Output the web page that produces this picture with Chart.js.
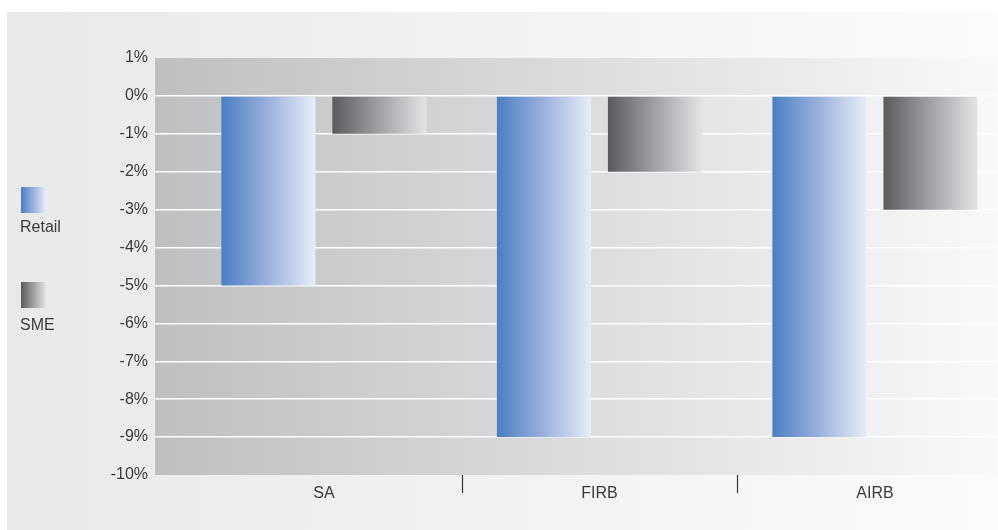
<!DOCTYPE html>
<html>
<head>
<meta charset="utf-8">
<title>Retail and SME – change by approach</title>
<script src="https://cdn.jsdelivr.net/npm/chart.js@4.4.1/dist/chart.umd.min.js"></script>
<style>
  html, body { margin: 0; padding: 0; background: #ffffff; }
  #wrap { width: 998px; height: 530px; position: relative; }
</style>
</head>
<body>
<div id="wrap"><canvas id="chart" width="998" height="530"></canvas></div>
<script>
// Approaches on the horizontal axis
const categories = ['SA', 'FIRB', 'AIRB'];
// Change in percent for each portfolio
const retailValues = [-5, -9, -9];
const smeValues = [-1, -2, -3];
// Vertical axis range and tick step (percent)
const yTickMin = -10;
const yTickMax = 1;
const yTickStep = 1;

const FONT = "'Liberation Sans Narrow', 'Arial Narrow', 'Liberation Sans', Arial, sans-serif";
const TEXT = '#3a3a3a';

// Horizontal colour ramps for each series
const ramps = {
  Retail: [[0, '#4a7fc3'], [0.5, '#9bb1dd'], [1, '#e7edf9']],
  SME: [[0, '#5a5b5e'], [0.5, '#a0a1a5'], [1, '#e3e4e6']]
};

function hGradient(ctx, x0, x1, stops) {
  const g = ctx.createLinearGradient(x0, 0, x1, 0);
  stops.forEach(s => g.addColorStop(s[0], s[1]));
  return g;
}

// Page and plot backgrounds
const backdrop = {
  id: 'backdrop',
  beforeDraw(chart) {
    const { ctx, chartArea: a, width, height } = chart;
    ctx.save();
    ctx.fillStyle = '#ffffff';
    ctx.fillRect(0, 0, width, height);
    ctx.fillStyle = hGradient(ctx, 7, width, [[0, '#e8e9ea'], [1, '#fbfbfb']]);
    ctx.fillRect(7, 12, width - 7, height - 12);
    ctx.fillStyle = hGradient(ctx, a.left, a.right, [[0, '#bebfc1'], [1, '#f9f9f9']]);
    ctx.fillRect(a.left, a.top, a.right - a.left, a.bottom - a.top);
    ctx.restore();
  }
};

// Each bar gets its own left-to-right ramp
const barRamps = {
  id: 'barRamps',
  beforeDatasetsDraw(chart) {
    const ctx = chart.ctx;
    chart.data.datasets.forEach((ds, di) => {
      const meta = chart.getDatasetMeta(di);
      meta.data.forEach(el => {
        const p = el.getProps(['x', 'width'], true);
        const g = hGradient(ctx, p.x - p.width / 2, p.x + p.width / 2, ramps[ds.label]);
        el.options = Object.assign({}, el.options, { backgroundColor: g });
      });
    });
  }
};

// Separator marks between the approach groups, and the stacked legend at the left
const extras = {
  id: 'extras',
  afterDraw(chart) {
    const { ctx, chartArea: a } = chart;
    const xs = chart.scales.x;
    ctx.save();
    ctx.strokeStyle = '#333333';
    ctx.lineWidth = 1.2;
    for (let i = 0; i < categories.length - 1; i++) {
      const x = Math.round(xs.getPixelForValue(i + 0.5)) + 0.5;
      ctx.beginPath();
      ctx.moveTo(x, a.bottom);
      ctx.lineTo(x, a.bottom + 18);
      ctx.stroke();
    }
    const items = [
      { top: 187, text: 232 },
      { top: 282, text: 330 }
    ];
    chart.data.datasets.forEach((ds, i) => {
      const it = items[i];
      ctx.fillStyle = hGradient(ctx, 21, 46, ramps[ds.label]);
      ctx.fillRect(21, it.top, 25, 26);
      ctx.fillStyle = TEXT;
      ctx.font = '16px ' + FONT;
      ctx.textAlign = 'left';
      ctx.textBaseline = 'alphabetic';
      ctx.fillText(ds.label, 20, it.text);
    });
    ctx.restore();
  }
};

const toPoints = arr => arr.map((v, i) => ({ x: i, y: v }));

new Chart(document.getElementById('chart'), {
  type: 'bar',
  data: {
    datasets: [
      { label: 'Retail', data: toPoints(retailValues) },
      { label: 'SME', data: toPoints(smeValues) }
    ]
  },
  options: {
    responsive: false,
    devicePixelRatio: 1,
    animation: false,
    categoryPercentage: 0.806,
    barPercentage: 0.847,
    layout: { padding: { top: 58, right: 1, bottom: 0, left: 0 } },
    plugins: {
      legend: { display: false },
      tooltip: { enabled: false }
    },
    scales: {
      x: {
        type: 'linear',
        offset: false,
        min: -0.613,
        max: 2.443,
        grid: { display: false, drawTicks: false, offset: false },
        border: { display: false },
        afterBuildTicks(scale) {
          scale.ticks = categories.map((c, i) => ({ value: i }));
        },
        afterFit(scale) { scale.height = 55; },
        ticks: {
          autoSkip: false,
          maxRotation: 0,
          padding: 9,
          color: TEXT,
          font: { family: FONT, size: 16 },
          callback: v => categories[v]
        }
      },
      y: {
        min: yTickMin,
        max: yTickMax,
        afterFit(scale) { scale.width = 155; },
        grid: {
          drawTicks: false,
          lineWidth: 1.5,
          color: c => (c.tick && (c.tick.value === yTickMax || c.tick.value === yTickMin)) ? 'rgba(0,0,0,0)' : '#ffffff'
        },
        border: { display: false },
        ticks: {
          stepSize: yTickStep,
          padding: 7,
          color: TEXT,
          font: { family: FONT, size: 16 },
          callback: v => Math.round(v) + '%'
        }
      }
    }
  },
  plugins: [backdrop, barRamps, extras]
});
</script>
</body>
</html>
